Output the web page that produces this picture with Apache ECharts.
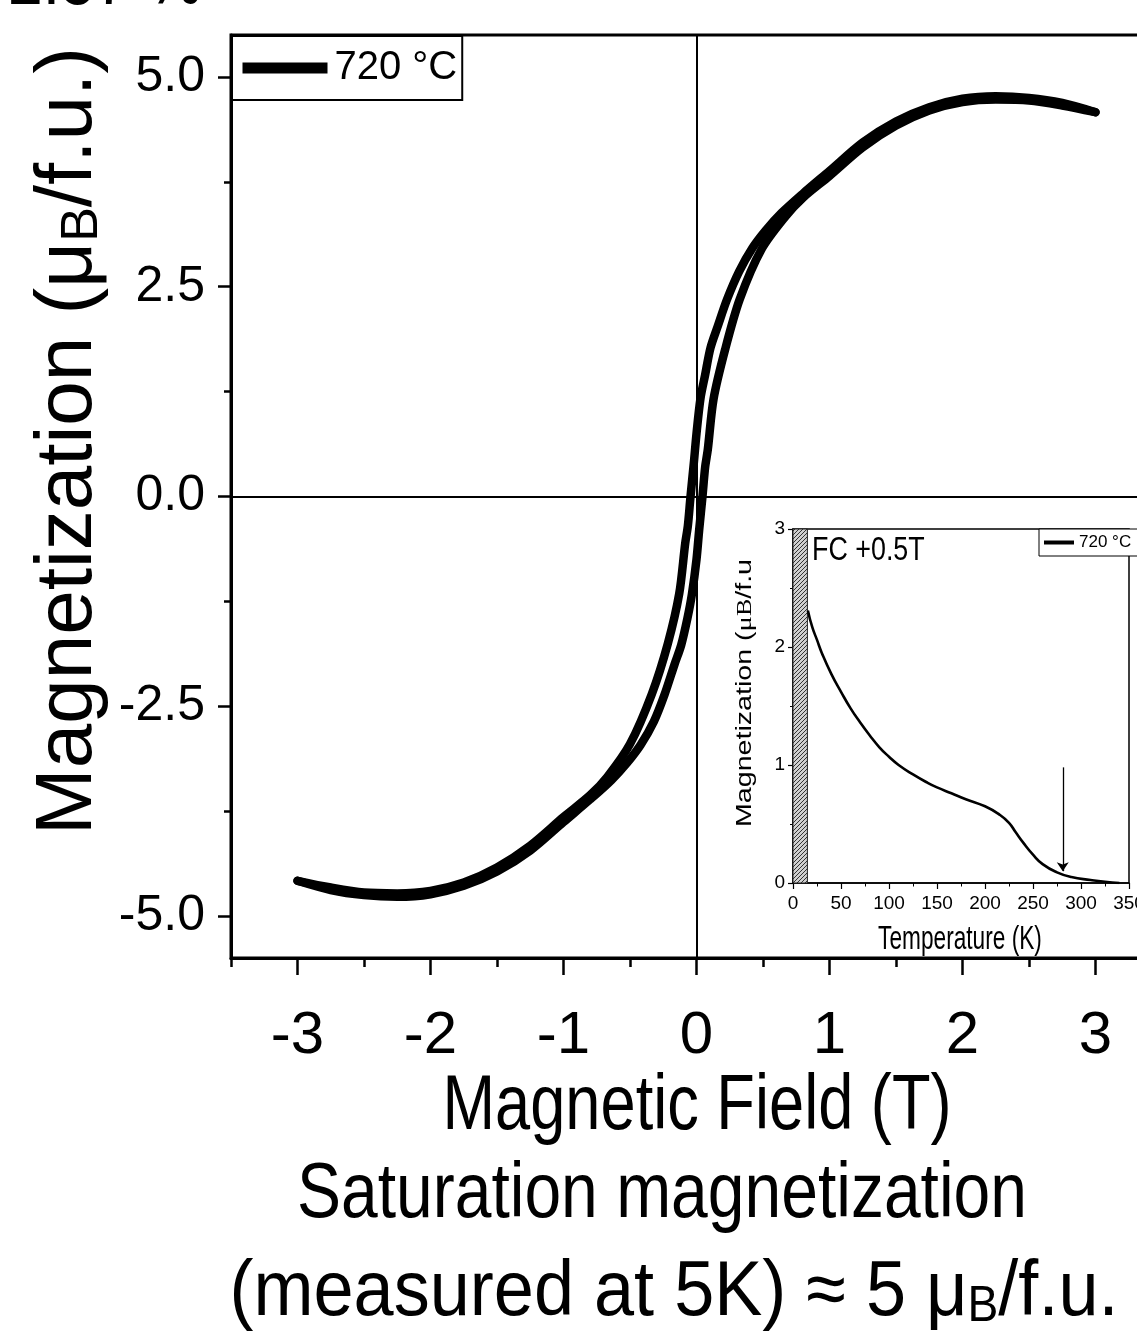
<!DOCTYPE html>
<html>
<head>
<meta charset="utf-8">
<title>Magnetization 720 °C</title>
<script src="https://cdn.jsdelivr.net/npm/echarts@6.0.0/dist/echarts.min.js"></script>
<style>
  html, body { margin: 0; padding: 0; background: #fff; }
  #chart { width: 1137px; height: 1332px; }
</style>
</head>
<body>
<div id="chart"></div>
<script>
// hysteresis loop at 5 K, sweep +3 T -> -3 T  [field (T), M (muB/f.u.)]
const descBranch = [
  [3.0, 4.58], [2.75, 4.69], [2.5, 4.75], [2.25, 4.77], [2.0, 4.74], [1.75, 4.64],
  [1.5, 4.47], [1.25, 4.22], [1.0, 3.88], [0.8, 3.61], [0.64, 3.38], [0.52, 3.17],
  [0.42, 2.96], [0.32, 2.68], [0.23, 2.35], [0.16, 2.03], [0.105, 1.77], [0.065, 1.45],
  [0.03, 1.17], [0.0, 0.75], [-0.02, 0.4], [-0.045, 0.0], [-0.065, -0.35], [-0.085, -0.56],
  [-0.13, -1.16], [-0.215, -1.75], [-0.335, -2.35], [-0.5, -2.95], [-0.67, -3.34],
  [-0.8, -3.56], [-1.0, -3.82], [-1.25, -4.16], [-1.5, -4.42], [-1.75, -4.6], [-2.0, -4.7],
  [-2.25, -4.73], [-2.5, -4.72], [-2.75, -4.66], [-3.0, -4.58]
];
// sweep -3 T -> +3 T
const ascBranch = [
  [-3.0, -4.58], [-2.75, -4.69], [-2.5, -4.75], [-2.25, -4.77], [-2.0, -4.74], [-1.75, -4.64],
  [-1.5, -4.47], [-1.25, -4.22], [-1.0, -3.88], [-0.8, -3.61], [-0.64, -3.38], [-0.52, -3.17],
  [-0.42, -2.96], [-0.32, -2.68], [-0.24, -2.36], [-0.165, -2.0], [-0.115, -1.77], [-0.068, -1.45],
  [-0.035, -1.17], [0.0, -0.75], [0.02, -0.4], [0.045, 0.0], [0.065, 0.35], [0.085, 0.56],
  [0.128, 1.16], [0.215, 1.75], [0.325, 2.35], [0.49, 2.95], [0.67, 3.34], [0.8, 3.56],
  [1.0, 3.82], [1.25, 4.16], [1.5, 4.42], [1.75, 4.6], [2.0, 4.7], [2.25, 4.73],
  [2.5, 4.72], [2.75, 4.66], [3.0, 4.58]
];
// inset: FC +0.5T, [T (K), M]
const fcCurve = [
  [15.5, 2.31], [20, 2.17], [25, 2.06], [30, 1.95], [40, 1.77], [50, 1.62], [60, 1.48],
  [70, 1.36], [80, 1.25], [90, 1.15], [100, 1.07], [110, 1.0], [125, 0.92], [140, 0.85],
  [150, 0.81], [165, 0.76], [180, 0.71], [200, 0.65], [215, 0.58], [225, 0.51], [232, 0.43],
  [240, 0.34], [250, 0.24], [260, 0.16], [275, 0.09], [290, 0.05], [310, 0.025],
  [325, 0.01], [340, 0.0]
];
const fieldTicks = [-3, -2, -1, 0, 1, 2, 3];
const fieldMinorTicks = [-3.5, -2.5, -1.5, -0.5, 0.5, 1.5, 2.5, 3.5];
const magTicks = [-5, -2.5, 0, 2.5, 5];
const magMinorTicks = [-3.75, -1.25, 1.25, 3.75];
const hatchRange = [0, 15];     // shaded low-T strip in inset
const arrowAt = [281, 0.98, 0.1];

const SANS = '"Liberation Sans", Arial, sans-serif';
const SERIF = '"Liberation Serif", "DejaVu Serif", serif';

// hatch pattern for the shaded strip
const hatch = document.createElement('canvas');
hatch.width = 4;
hatch.height = 4;
const hctx = hatch.getContext('2d');
hctx.fillStyle = '#cfcfcf';
hctx.fillRect(0, 0, 4, 4);
hctx.strokeStyle = '#333';
hctx.lineWidth = 1;
hctx.beginPath();
hctx.moveTo(0, 4); hctx.lineTo(4, 0);
hctx.moveTo(-1, 1); hctx.lineTo(1, -1);
hctx.moveTo(3, 5); hctx.lineTo(5, 3);
hctx.stroke();

// centred text helper for the graphic layer
const txt = (x, y, text, extra, style) => Object.assign({
  type: 'text', x: x, y: y, z: 20,
  style: Object.assign({
    text: text, fill: '#000', fontFamily: SANS,
    align: 'center', verticalAlign: 'middle', textAlign: 'center', textVerticalAlign: 'middle'
  }, style)
}, extra);

const loopLine = (data, extra) => Object.assign({
  type: 'line', name: '720 °C', xAxisIndex: 0, yAxisIndex: 0,
  data: data, symbol: 'none', smooth: 0.3, z: 3,
  lineStyle: {color: '#000', width: 8.5, cap: 'round', join: 'round'},
  itemStyle: {color: '#000'}
}, extra);

const chart = echarts.init(document.getElementById('chart'));

const option = {
  backgroundColor: '#fff',
  animation: false,
  grid: [
    {left: 231, top: 35, width: 931, height: 923, show: true, borderColor: '#000', borderWidth: 3,
      containLabel: false, outerBoundsMode: 'none'},
    {left: 793, top: 529, width: 336, height: 354, show: true, borderColor: '#000', borderWidth: 1.5,
      backgroundColor: '#fff', containLabel: false, outerBoundsMode: 'none'}
  ],
  legend: [
    {
      left: 232, top: 36, data: ['720 °C'], selectedMode: false,
      padding: [12, 5, 12, 5], itemWidth: 85, itemHeight: 14,
      borderColor: '#000', borderWidth: 2, borderRadius: 0, backgroundColor: '#fff',
      lineStyle: {width: 11, cap: 'butt'}, itemStyle: {opacity: 0},
      textStyle: {fontSize: 40, fontFamily: SANS, color: '#000', padding: [0, 0, 0, 2]}
    },
    {
      left: 1039, top: 529, data: ['720 °C '], selectedMode: false,
      padding: [5, 3, 5, 3], itemWidth: 30, itemHeight: 8,
      borderColor: '#000', borderWidth: 1, borderRadius: 0, backgroundColor: '#fff',
      lineStyle: {width: 4, cap: 'butt'}, itemStyle: {opacity: 0},
      textStyle: {fontSize: 17, fontFamily: SANS, color: '#000'}
    }
  ],
  xAxis: [
    {
      gridIndex: 0, type: 'value', min: -3.5, max: 3.5,
      axisLine: {onZero: false, lineStyle: {color: '#000', width: 3}},
      axisTick: {customValues: fieldTicks, length: 17, lineStyle: {color: '#000', width: 2.5}},
      axisLabel: {customValues: fieldTicks, margin: 48, fontSize: 60, fontFamily: SANS, color: '#000'},
      splitLine: {show: false}
    },
    {
      gridIndex: 0, type: 'value', min: -3.5, max: 3.5, position: 'bottom',
      axisLine: {show: false, onZero: false},
      axisTick: {customValues: fieldMinorTicks, length: 9, lineStyle: {color: '#000', width: 2.5}},
      axisLabel: {show: false},
      splitLine: {show: false}
    },
    {
      gridIndex: 1, type: 'value', min: 0, max: 350, interval: 50,
      axisLine: {onZero: false, lineStyle: {color: '#000', width: 1.5}},
      axisTick: {length: 6, lineStyle: {color: '#000', width: 1.2}},
      minorTick: {show: true, splitNumber: 2, length: 3.5, lineStyle: {color: '#000', width: 1}},
      axisLabel: {margin: 11, fontSize: 19, fontFamily: SANS, color: '#000'},
      splitLine: {show: false}
    }
  ],
  yAxis: [
    {
      gridIndex: 0, type: 'value', min: -5.5, max: 5.5,
      axisLine: {onZero: false, lineStyle: {color: '#000', width: 3}},
      axisTick: {customValues: magTicks, length: 13, lineStyle: {color: '#000', width: 2.5}},
      axisLabel: {
        customValues: magTicks, margin: 26, fontSize: 50, fontFamily: SANS, color: '#000',
        formatter: (v) => v.toFixed(1)
      },
      splitLine: {show: false}
    },
    {
      gridIndex: 0, type: 'value', min: -5.5, max: 5.5, position: 'left',
      axisLine: {show: false, onZero: false},
      axisTick: {customValues: magMinorTicks, length: 7, lineStyle: {color: '#000', width: 2.5}},
      axisLabel: {show: false},
      splitLine: {show: false}
    },
    {
      gridIndex: 1, type: 'value', min: 0, max: 3, interval: 1,
      axisLine: {onZero: false, lineStyle: {color: '#000', width: 1.5}},
      axisTick: {length: 5, lineStyle: {color: '#000', width: 1.2}},
      minorTick: {show: true, splitNumber: 2, length: 3, lineStyle: {color: '#000', width: 1}},
      axisLabel: {margin: 8, fontSize: 19, fontFamily: SANS, color: '#000'},
      splitLine: {show: false}
    }
  ],
  series: [
    loopLine(descBranch, {
      markLine: {
        silent: true, symbol: 'none', label: {show: false},
        lineStyle: {color: '#000', width: 2, type: 'solid'},
        data: [{xAxis: 0}, {yAxis: 0}]
      }
    }),
    loopLine(ascBranch, {}),
    {
      type: 'line', name: '720 °C ', xAxisIndex: 2, yAxisIndex: 2,
      data: fcCurve, symbol: 'none', smooth: true, z: 4,
      lineStyle: {color: '#000', width: 2.6},
      itemStyle: {color: '#000'},
      markArea: {
        silent: true,
        itemStyle: {color: {image: hatch, repeat: 'repeat'}, borderColor: '#222', borderWidth: 1},
        data: [[{xAxis: hatchRange[0]}, {xAxis: hatchRange[1]}]]
      },
      markLine: {
        silent: true, symbol: ['none', 'arrow'], symbolSize: 9, label: {show: false},
        lineStyle: {color: '#000', width: 1.3, type: 'solid'},
        data: [[{coord: [arrowAt[0], arrowAt[1]]}, {coord: [arrowAt[0], arrowAt[2]]}]]
      }
    }
  ],
  graphic: [
    txt(8, -18, '2.87 %', {scaleX: 0.78}, {fontSize: 80, align: 'left', textAlign: 'left'}),
    txt(69, 441, '{a|Magnetization (μ}{b|B}{a|/f.u.)}', {rotation: Math.PI / 2}, {
      rich: {
        a: {fontSize: 80, fontFamily: SANS, lineHeight: 80, fill: '#000'},
        b: {fontSize: 52, fontFamily: SANS, lineHeight: 36, verticalAlign: 'bottom', fill: '#000'}
      }
    }),
    txt(697, 1107, 'Magnetic Field (T)', {scaleX: 0.81}, {fontSize: 78}),
    txt(662, 1195, 'Saturation magnetization', {scaleX: 0.846}, {fontSize: 78}),
    txt(674, 1293, '{a|(measured at 5K) ≈ 5 μ}{b|B}{a|/f.u.}', {scaleX: 0.924}, {
      rich: {
        a: {fontSize: 78, fontFamily: SANS, lineHeight: 78, fill: '#000'},
        b: {fontSize: 50, fontFamily: SANS, lineHeight: 22, verticalAlign: 'bottom', fill: '#000'}
      }
    }),
    txt(812, 551, 'FC +0.5T', {scaleX: 0.79}, {fontSize: 34, align: 'left', textAlign: 'left'}),
    txt(745, 693, '{a|Magnetization (}{s|μ}{b|B}{a|/f.u}', {rotation: Math.PI / 2, scaleX: 1.3}, {
      rich: {
        a: {fontSize: 22, fontFamily: SANS, lineHeight: 22, fill: '#000'},
        s: {fontSize: 22, fontFamily: SERIF, lineHeight: 22, fill: '#000'},
        b: {fontSize: 20, fontFamily: SERIF, lineHeight: 16, verticalAlign: 'bottom', fill: '#000'}
      }
    }),
    txt(960, 940, 'Temperature (K)', {scaleX: 0.81, scaleY: 1.2}, {fontSize: 28})
  ]
};

chart.setOption(option);
</script>
</body>
</html>
